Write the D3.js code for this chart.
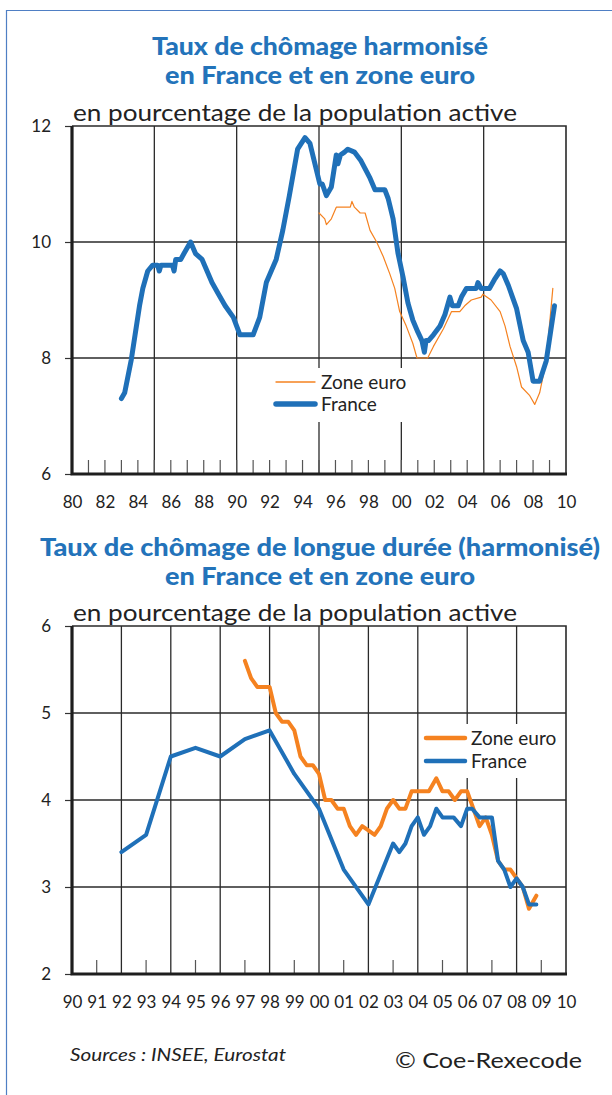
<!DOCTYPE html>
<html>
<head>
<meta charset="utf-8">
<script src="https://cdn.jsdelivr.net/npm/d3@7"></script>
<style>
  body { margin: 0; background: #fff; }
  svg { display: block; font-family: Lato, "Noto Sans", sans-serif; }
</style>
</head>
<body>
<svg width="612" height="1095"></svg>
<script>
// ---- data ----
// chart 1 : taux de chomage harmonise (year, %)
const franceHarm = [
  [1983.0, 7.3], [1983.2, 7.4], [1983.6, 7.97], [1984.1, 8.9], [1984.3, 9.2], [1984.6, 9.5],
  [1984.9, 9.6], [1985.2, 9.6], [1985.3, 9.5], [1985.4, 9.6], [1986.1, 9.6], [1986.2, 9.5],
  [1986.3, 9.7], [1986.6, 9.7], [1986.8, 9.8], [1987.2, 10.0], [1987.5, 9.8], [1987.9, 9.7],
  [1988.2, 9.5], [1988.5, 9.3], [1988.9, 9.1], [1989.3, 8.9], [1989.8, 8.7], [1990.2, 8.4],
  [1991.0, 8.4], [1991.4, 8.7], [1991.8, 9.3], [1992.4, 9.7], [1992.8, 10.2], [1993.2, 10.8],
  [1993.7, 11.6], [1994.15, 11.8], [1994.45, 11.7], [1995.05, 11.0], [1995.2, 11.0],
  [1995.45, 10.8], [1995.75, 10.95], [1996.05, 11.5], [1996.15, 11.35], [1996.3, 11.5],
  [1996.55, 11.55], [1996.75, 11.6], [1997.15, 11.55], [1997.55, 11.4], [1998.1, 11.1],
  [1998.4, 10.9], [1999.0, 10.9], [1999.2, 10.75], [1999.5, 10.4], [1999.8, 9.8],
  [2000.1, 9.4], [2000.4, 8.95], [2000.7, 8.65], [2001.0, 8.45], [2001.25, 8.3], [2001.4, 8.1],
  [2001.5, 8.3], [2001.65, 8.3], [2001.95, 8.4], [2002.35, 8.55], [2002.65, 8.75],
  [2002.95, 9.05], [2003.1, 8.9], [2003.45, 8.9], [2003.65, 9.05], [2003.95, 9.2],
  [2004.55, 9.2], [2004.65, 9.3], [2004.85, 9.2], [2005.35, 9.2], [2005.65, 9.35],
  [2006.0, 9.5], [2006.2, 9.45], [2006.5, 9.25], [2007.0, 8.85], [2007.4, 8.3], [2007.7, 8.1],
  [2008.0, 7.6], [2008.4, 7.6], [2008.8, 7.95], [2009.3, 8.9]
];
const euroHarm = [
  [1995.0, 10.5], [1995.35, 10.4], [1995.45, 10.3], [1995.75, 10.4], [1996.05, 10.6],
  [1996.9, 10.6], [1997.0, 10.7], [1997.15, 10.6], [1997.5, 10.5], [1997.8, 10.5],
  [1998.1, 10.2], [1998.5, 10.0], [1998.9, 9.75], [1999.3, 9.45], [1999.6, 9.2], [1999.9, 8.8],
  [2000.3, 8.55], [2000.7, 8.25], [2000.95, 8.0], [2001.6, 8.0], [2001.95, 8.2], [2002.55, 8.5],
  [2003.05, 8.8], [2003.55, 8.8], [2003.85, 8.9], [2004.25, 9.0], [2004.85, 9.05],
  [2004.95, 9.1], [2005.45, 9.0], [2006.0, 8.8], [2006.3, 8.55], [2006.6, 8.2], [2007.0, 7.85],
  [2007.3, 7.5], [2007.8, 7.35], [2008.1, 7.2], [2008.4, 7.4], [2008.8, 7.95], [2009.2, 9.2]
];

// chart 2 : chomage de longue duree (year, %)
const franceLong = [
  [1992.0, 3.4], [1993.0, 3.6], [1994.0, 4.5], [1995.0, 4.6], [1996.0, 4.5], [1997.0, 4.7],
  [1998.0, 4.8], [1999.0, 4.3], [2000.0, 3.9], [2001.0, 3.2], [2002.0, 2.8], [2003.0, 3.5],
  [2003.25, 3.4], [2003.5, 3.5], [2003.75, 3.7], [2004.0, 3.8], [2004.25, 3.6], [2004.5, 3.7],
  [2004.75, 3.9], [2005.0, 3.8], [2005.45, 3.8], [2005.75, 3.7], [2006.0, 3.9], [2006.2, 3.9],
  [2006.5, 3.8], [2007.0, 3.8], [2007.25, 3.3], [2007.5, 3.2], [2007.75, 3.0], [2008.0, 3.1],
  [2008.25, 3.0], [2008.5, 2.8], [2008.8, 2.8]
];
const euroLong = [
  [1997.0, 5.6], [1997.25, 5.4], [1997.5, 5.3], [1998.0, 5.3], [1998.25, 5.0], [1998.5, 4.9],
  [1998.75, 4.9], [1999.0, 4.8], [1999.25, 4.5], [1999.5, 4.4], [1999.75, 4.4], [2000.0, 4.3],
  [2000.25, 4.0], [2000.5, 4.0], [2000.75, 3.9], [2001.0, 3.9], [2001.25, 3.7], [2001.5, 3.6],
  [2001.75, 3.7], [2002.0, 3.65], [2002.25, 3.6], [2002.5, 3.7], [2002.75, 3.9], [2003.0, 4.0],
  [2003.25, 3.9], [2003.5, 3.9], [2003.75, 4.1], [2004.45, 4.1], [2004.75, 4.25], [2005.0, 4.1],
  [2005.25, 4.1], [2005.5, 4.0], [2005.75, 4.1], [2006.0, 4.1], [2006.25, 3.9], [2006.5, 3.7],
  [2006.75, 3.8], [2007.0, 3.6], [2007.25, 3.3], [2007.5, 3.2], [2007.75, 3.2], [2008.0, 3.1],
  [2008.25, 3.0], [2008.5, 2.75], [2008.8, 2.9]
];

const yTicks1 = [6, 8, 10, 12];
const yTicks2 = [2, 3, 4, 5, 6];
const seriesNames = ['Zone euro', 'France'];

const blue = '#1f70b8';
const orange = '#f58220';
const titleBlue = '#2373ba';

const svg = d3.select('svg');

// outer frame
svg.append('path')
  .attr('d', 'M 6.5 1095 L 6.5 10.5 L 612 10.5')
  .attr('fill', 'none')
  .attr('stroke', '#4f7fc4')
  .attr('stroke-width', 1.2);

const addTitle = (lines, y0, widths) => {
  lines.forEach((t, i) => {
    svg.append('text')
      .attr('x', 320).attr('y', y0 + i * 29)
      .attr('text-anchor', 'middle')
      .attr('font-size', 25).attr('font-weight', 900)
      .attr('fill', titleBlue)
      .attr('textLength', widths[i]).attr('lengthAdjust', 'spacingAndGlyphs')
      .text(t);
  });
};

const drawChart = (opt) => {
  const { top, bottom, xDomain, yDomain, yTicks, xLabels, gridX, tickYears, series, legend } = opt;
  const left = 72, right = 566;

  const x = d3.scaleLinear().domain(xDomain).range([left, right]);
  const y = d3.scaleLinear().domain(yDomain).range([bottom, top]);

  const g = svg.append('g');

  // subtitle
  g.append('text')
    .attr('x', 73).attr('y', top - 5)
    .attr('font-size', 24).attr('fill', '#222')
    .attr('textLength', 444).attr('lengthAdjust', 'spacingAndGlyphs')
    .text('en pourcentage de la population active');

  // horizontal grid
  g.selectAll('.hg').data(yTicks.slice(1, -1)).enter().append('line')
    .attr('x1', left).attr('x2', right)
    .attr('y1', d => y(d)).attr('y2', d => y(d))
    .attr('stroke', '#2a2a2a').attr('stroke-width', 1.3);

  // vertical grid
  g.selectAll('.vg').data(gridX).enter().append('line')
    .attr('x1', d => x(d)).attr('x2', d => x(d))
    .attr('y1', top).attr('y2', bottom)
    .attr('stroke', '#2a2a2a').attr('stroke-width', 1.3);

  // small inside ticks on the bottom axis
  g.selectAll('.mt').data(tickYears).enter().append('line')
    .attr('x1', d => x(d)).attr('x2', d => x(d))
    .attr('y1', bottom).attr('y2', bottom - 14)
    .attr('stroke', '#555').attr('stroke-width', 1.2);

  // top and right frame
  g.append('path')
    .attr('d', `M ${left} ${top} L ${right} ${top} L ${right} ${bottom}`)
    .attr('fill', 'none').attr('stroke', '#2a2a2a').attr('stroke-width', 1.6);

  // y axis
  const yAxis = g.append('g')
    .attr('transform', `translate(${left},0)`)
    .call(d3.axisLeft(y).tickValues(yTicks).tickSize(7).tickPadding(14).tickFormat(d3.format('d')));
  yAxis.select('.domain').remove();
  yAxis.selectAll('line').attr('stroke', '#333').attr('stroke-width', 1.2);
  yAxis.selectAll('text').attr('font-size', 17).attr('fill', '#222').attr('font-family', 'Lato, sans-serif');

  // x axis labels
  const xAxis = g.append('g')
    .attr('transform', `translate(0,${bottom})`)
    .call(d3.axisBottom(x).tickValues(xLabels.map(d => d.year)).tickSize(0).tickPadding(22)
      .tickFormat((d, i) => xLabels[i].label));
  xAxis.select('.domain').remove();
  xAxis.selectAll('text').attr('font-size', 17).attr('fill', '#222').attr('font-family', 'Lato, sans-serif');

  // thick left and bottom axes
  g.append('path')
    .attr('d', `M ${left} ${top} L ${left} ${bottom} L ${right + 1} ${bottom}`)
    .attr('fill', 'none').attr('stroke', '#1e1e1e').attr('stroke-width', 3.2);

  // legend box (hides grid)
  g.append('rect')
    .attr('x', legend.x - 4).attr('y', legend.y - 14)
    .attr('width', legend.w).attr('height', 54)
    .attr('fill', '#fff');

  // series
  const line = d3.line().x(d => x(d[0])).y(d => y(d[1]));
  series.forEach(s => {
    g.append('path')
      .datum(s.data)
      .attr('d', line)
      .attr('fill', 'none')
      .attr('stroke', s.color)
      .attr('stroke-width', s.width)
      .attr('stroke-linejoin', 'round')
      .attr('stroke-linecap', 'round');
  });

  // legend
  seriesNames.forEach((name, i) => {
    const s = series[i];
    const ly = legend.y + i * legend.dy;
    g.append('line')
      .attr('x1', legend.x).attr('x2', legend.x + 39)
      .attr('y1', ly).attr('y2', ly)
      .attr('stroke', s.color).attr('stroke-width', s.legendWidth)
      .attr('stroke-linecap', 'round');
    g.append('text')
      .attr('x', legend.x + 45).attr('y', ly + 6.5)
      .attr('font-size', 19).attr('fill', '#222')
      .text(name);
  });
};

// ---- chart 1 ----
addTitle(['Taux de chômage harmonisé', 'en France et en zone euro'], 55, [336, 310]);

const labels1 = d3.range(1980, 2011, 2).map(yr => ({ year: yr, label: String(yr % 100).padStart(2, '0') }));
drawChart({
  top: 126, bottom: 474,
  xDomain: [1980, 2010], yDomain: [6, 12], yTicks: yTicks1,
  xLabels: labels1,
  gridX: [1985, 1990, 1995, 2000, 2005],
  tickYears: d3.range(1981, 2010),
  series: [
    { data: euroHarm, color: orange, width: 1.2, legendWidth: 1.4 },
    { data: franceHarm, color: blue, width: 5, legendWidth: 5.5 }
  ],
  legend: { x: 276, y: 382, dy: 22, w: 140 }
});

// ---- chart 2 ----
addTitle(['Taux de chômage de longue durée (harmonisé)', 'en France et en zone euro'], 556, [560, 310]);

const labels2 = d3.range(1990, 2011, 1).map(yr => ({ year: yr, label: String(yr % 100).padStart(2, '0') }));
drawChart({
  top: 626, bottom: 974,
  xDomain: [1990, 2010], yDomain: [2, 6], yTicks: yTicks2,
  xLabels: labels2,
  gridX: [1992, 1994, 1996, 1998, 2000, 2002, 2004, 2006, 2008],
  tickYears: d3.range(1991, 2010, 2),
  series: [
    { data: euroLong, color: orange, width: 4, legendWidth: 4.5 },
    { data: franceLong, color: blue, width: 4, legendWidth: 4.5 }
  ],
  legend: { x: 426, y: 738, dy: 23, w: 140 }
});

// footer
svg.append('text')
  .attr('x', 70).attr('y', 1061)
  .attr('font-size', 18).attr('font-style', 'italic').attr('fill', '#222')
  .attr('textLength', 216).attr('lengthAdjust', 'spacingAndGlyphs')
  .text('Sources : INSEE, Eurostat');
svg.append('text')
  .attr('x', 395).attr('y', 1068)
  .attr('font-size', 22).attr('fill', '#222')
  .attr('textLength', 187).attr('lengthAdjust', 'spacingAndGlyphs')
  .text('© Coe-Rexecode');
</script>
</body>
</html>
